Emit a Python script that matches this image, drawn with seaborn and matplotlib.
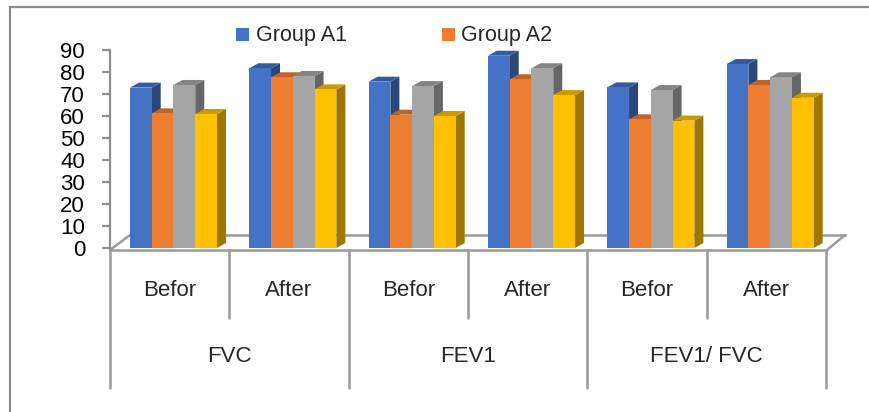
import pandas as pd
import matplotlib.pyplot as plt
from matplotlib.patches import Polygon, Rectangle
from matplotlib.lines import Line2D
from matplotlib import font_manager
import seaborn as sns

# data
tests = ["FVC", "FEV1", "FEV1/ FVC"]
phases = ["Befor", "After"]
groups = ["Group A1", "Group A2", "Group B1", "Group B2"]
group_a1 = [72.9, 81.7, 75.6, 87.4, 73.0, 83.6]
group_a2 = [61.2, 77.6, 60.6, 76.7, 58.5, 74.1]
group_b1 = [74.1, 78.2, 73.6, 81.7, 71.8, 77.6]
group_b2 = [60.9, 72.1, 60.0, 69.5, 57.9, 68.3]
colors = ["#4472C4", "#ED7D31", "#A5A5A5", "#FFC000"]

slots = [t + " " + p for t in tests for p in phases]
rows = []
for g, vals in zip(groups, [group_a1, group_a2, group_b1, group_b2]):
    for s, v in zip(slots, vals):
        rows.append({"slot": s, "group": g, "value": v})
df = pd.DataFrame(rows)

sns.set_style("white")
names = {f.name for f in font_manager.fontManager.ttflist}
fam = "Liberation Sans" if "Liberation Sans" in names else "DejaVu Sans"
plt.rcParams["font.family"] = [fam, "DejaVu Sans"]

W, H = 869, 412
fig = plt.figure(figsize=(W / 100, H / 100), dpi=100)
# axes: y=0 at pixel 248, y=90 at pixel 50
ax = fig.add_axes([110 / W, (H - 248) / H, 716 / W, 198 / H])
ax.set_facecolor("none")

sns.barplot(data=df, x="slot", y="value", hue="group", order=slots,
            hue_order=groups, palette=colors, width=0.73, gap=0,
            saturation=1, legend=False, linewidth=0, ax=ax)

sep = 0.532  # separator offset from slot centre
ax.set_xlim(-sep, 6 - sep)
ax.set_ylim(0, 90)

px_x = 1 / 119.33   # data units per pixel (x)
px_y = 1 / 2.2      # data units per pixel (y)
dx, dy = 9 * px_x, 5 * px_y

def shade(c, f):
    r, g, b = plt.matplotlib.colors.to_rgb(c)
    return (r * f, g * f, b * f)

bars = sorted(ax.patches, key=lambda p: p.get_x())
for i, p in enumerate(bars):
    x0, w, h = p.get_x(), p.get_width(), p.get_height()
    c = p.get_facecolor()
    z = 2 + i * 0.01
    p.set_zorder(z + 0.005)
    top = Polygon([(x0, h), (x0 + w, h), (x0 + w + dx, h + dy), (x0 + dx, h + dy)],
                  closed=True, facecolor=shade(c, 0.8), edgecolor="none", zorder=z)
    side = Polygon([(x0 + w, 0), (x0 + w + dx, dy), (x0 + w + dx, h + dy), (x0 + w, h)],
                   closed=True, facecolor=shade(c, 0.62), edgecolor="none", zorder=z)
    ax.add_patch(side)
    ax.add_patch(top)

# spines / ticks
sns.despine(ax=ax, left=False, bottom=True, top=True, right=True)
ax.spines["left"].set_color("#8f8f8f")
ax.spines["left"].set_linewidth(1.6)
ax.set_yticks(range(0, 91, 10))
ax.tick_params(axis="y", length=6, width=1.6, color="#8f8f8f", pad=12,
               labelsize=16, labelcolor="black", direction="out", left=True)
ax.set_xticks([])
ax.set_xlabel("")
ax.set_ylabel("")

# 3D floor
gray = "#9a9a9a"
fy0 = -2 / 198   # front edge (axes frac)
fy1 = 13 / 198   # back edge
trans = ax.get_xaxis_transform()
fx = [-sep, -sep + 717 * px_x]
bx = [-sep + 20 * px_x, -sep + 735 * px_x]
for xs, ys in [(fx, [fy0, fy0]), (bx, [fy1, fy1]),
               ([fx[0], bx[0]], [fy0, fy1]), ([fx[1], bx[1]], [fy0, fy1])]:
    ax.add_line(Line2D(xs, ys, transform=trans, color=gray, lw=1.8, clip_on=False, zorder=1))

# category separators and labels
def ya(py):
    return (248 - py) / 198

for k in range(7):
    bottom = 388 if k % 2 == 0 else 318
    ax.add_line(Line2D([k - sep, k - sep], [ya(250), ya(bottom)], transform=trans,
                       color=gray, lw=1.8, clip_on=False))
for k, s in enumerate(slots):
    ax.text(k - sep + 0.5, ya(291), phases[k % 2], transform=trans, ha="center", va="center", fontsize=16)
for j, t in enumerate(tests):
    ax.text(2 * j + 1 - sep, ya(357), t, transform=trans, ha="center", va="center", fontsize=16)

# legend (only first two entries shown)
leg = [(236, 442), (256, 461)]
for j in range(2):
    fig.patches.append(Rectangle((leg[0][j] / W, (H - 41) / H), 13 / W, 13 / H,
                                 transform=fig.transFigure, facecolor=colors[j], edgecolor="none"))
    fig.text(leg[1][j] / W, (H - 35) / H, groups[j], ha="left", va="center", fontsize=15.5)

# outer chart border
fig.patches.append(Rectangle((10 / W, -0.1), 1.2, (H - 7) / H + 0.1, transform=fig.transFigure,
                             facecolor="none", edgecolor="#8c8c8c", lw=1.6))

plt.savefig("out.png", dpi=100)
